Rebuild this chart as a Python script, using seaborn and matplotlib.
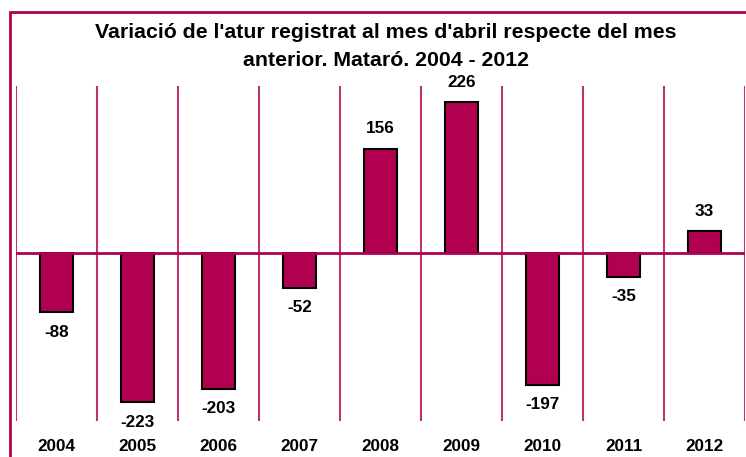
import matplotlib
matplotlib.use("Agg")
import matplotlib.pyplot as plt
import matplotlib.patches as mpatches
import seaborn as sns
import pandas as pd

years = ["2004", "2005", "2006", "2007", "2008", "2009", "2010", "2011", "2012"]
values = [-88, -223, -203, -52, 156, 226, -197, -35, 33]

df = pd.DataFrame({"year": years, "value": values})

sns.set_style("white")
plt.rcParams["font.family"] = ["Liberation Sans", "DejaVu Sans"]
plt.rcParams["text.color"] = "black"
plt.rcParams["xtick.color"] = "black"

W, H = 746, 457
fig = plt.figure(figsize=(W / 100, H / 100), dpi=100)
ax = fig.add_axes([16 / W, (H - 421) / H, (745 - 16) / W, (421 - 86) / H])

crimson = "#B0004F"
sns.barplot(data=df, x="year", y="value", color=crimson, width=0.41,
            edgecolor="black", linewidth=1.5, saturation=1, ax=ax)

ax.set_xlim(-0.5, 8.5)
ax.set_ylim(-251, 250)

# separators between categories
for i in range(len(years) + 1):
    ax.axvline(i - 0.5, color=crimson, lw=1.5, alpha=0.8, zorder=0)
ax.axhline(0, color=crimson, lw=2, zorder=3)

for i, v in enumerate(values):
    off = 9 if v > 0 else -9
    ax.annotate(str(v), (i, v), xytext=(0, off), textcoords="offset points",
                ha="center", va="bottom" if v > 0 else "top",
                fontsize=12.3, fontweight="bold", color="black")

for s in ax.spines.values():
    s.set_visible(False)
ax.set_yticks([])
ax.set_xlabel("")
ax.set_ylabel("")
ax.tick_params(axis="x", length=0, pad=13, colors="black")
for lbl in ax.get_xticklabels():
    lbl.set_fontweight("bold")
    lbl.set_fontsize(12.3)

fig.text(386 / W, 1 - 32 / H, "Variació de l'atur registrat al mes d'abril respecte del mes",
         ha="center", va="center", fontsize=15.3, fontweight="bold")
fig.text(386 / W, 1 - 61 / H, "anterior. Mataró. 2004 - 2012",
         ha="center", va="center", fontsize=15.3, fontweight="bold")

# outer frame (cut off at right and bottom)
fig.patches.append(mpatches.Rectangle((10 / W, -0.1), 1.5, (H - 12) / H + 0.1,
                                      transform=fig.transFigure, fill=False,
                                      edgecolor=crimson, lw=2))

fig.savefig("out.png", dpi=100)
